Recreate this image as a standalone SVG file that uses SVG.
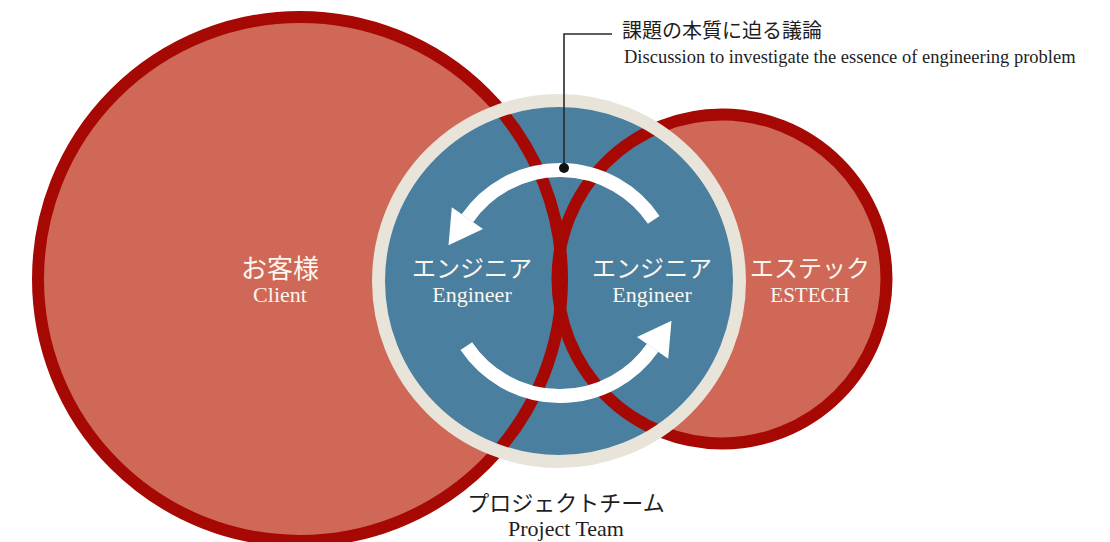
<svg xmlns="http://www.w3.org/2000/svg" width="1110" height="542" viewBox="0 0 1110 542">
  <defs>
    <style>
      .fill-red { fill: #CF6857; }
      .ring { fill: none; stroke: #A60904; stroke-width: 12; }
      .team { fill: #4A7F9F; }
      .team-ring { fill: none; stroke: #E8E4DA; stroke-width: 13; }
      .arrow { fill: none; stroke: #FFFFFF; stroke-width: 14; }
      .head { fill: #FFFFFF; }
      .jp { font-family: "Liberation Serif", "Noto Sans CJK JP", serif; }
      .en { font-family: "Liberation Serif", serif; }
      .white { fill: #FBF6EE; }
      .dark { fill: #1E1E1E; }
      .lead { fill: none; stroke: #2A2A2A; stroke-width: 1.6; }
    </style>
  </defs>
  <rect x="0" y="0" width="1110" height="542" fill="#FFFFFF"/>

  <!-- fills -->
  <g id="client">
    <circle class="fill-red" cx="300" cy="279" r="262"/>
  </g>
  <g id="estech">
    <circle class="fill-red" cx="722" cy="279" r="164.5"/>
  </g>
  <g id="project-team">
    <circle class="team" cx="559" cy="281" r="181"/>
  </g>

  <!-- rings -->
  <g id="client-ring">
    <circle class="ring" cx="300" cy="279" r="262"/>
  </g>
  <g id="estech-ring">
    <circle class="ring" cx="722" cy="279" r="164.5"/>
  </g>
  <g id="project-team-ring">
    <circle class="team-ring" cx="559" cy="281" r="180.5"/>
  </g>

  <!-- connectors -->
  <g id="connectors">
    <path class="arrow" d="M653.7,219.8 A113,113 0 0 0 467.4,218.2"/>
    <polygon class="head" points="451.8,207.3 483.0,229.1 448.5,245.2"/>
    <path class="arrow" d="M466.3,346.2 A113,113 0 0 0 652.6,347.8"/>
    <polygon class="head" points="668.2,358.7 637.0,336.9 671.5,320.8"/>
    <path class="lead" d="M564,168 V34 H612"/>
    <circle cx="564" cy="168" r="5" fill="#111111"/>
  </g>

  <!-- labels -->
  <g id="client-label">
    <text class="jp white" x="280" y="278" font-size="26" text-anchor="middle">お客様</text>
    <text class="en white" x="280" y="302" font-size="22" text-anchor="middle">Client</text>
  </g>
  <g id="engineer-left">
    <text class="jp white" x="472" y="277" font-size="24" text-anchor="middle">エンジニア</text>
    <text class="en white" x="472" y="302" font-size="22" text-anchor="middle">Engineer</text>
  </g>
  <g id="engineer-right">
    <text class="jp white" x="652" y="277" font-size="24" text-anchor="middle">エンジニア</text>
    <text class="en white" x="652" y="302" font-size="22" text-anchor="middle">Engineer</text>
  </g>
  <g id="estech-label">
    <text class="jp white" x="810" y="277" font-size="24" text-anchor="middle">エステック</text>
    <text class="en white" x="810" y="302" font-size="21" text-anchor="middle">ESTECH</text>
  </g>
  <g id="project-team-label">
    <text class="jp dark" x="566" y="511" font-size="22" text-anchor="middle">プロジェクトチーム</text>
    <text class="en dark" x="566" y="536" font-size="22" text-anchor="middle">Project Team</text>
  </g>
  <g id="discussion-note">
    <text class="jp dark" x="622" y="38" font-size="20">課題の本質に迫る議論</text>
    <text class="en dark" x="624" y="63" font-size="18.5">Discussion to investigate the essence of engineering problem</text>
  </g>
</svg>
